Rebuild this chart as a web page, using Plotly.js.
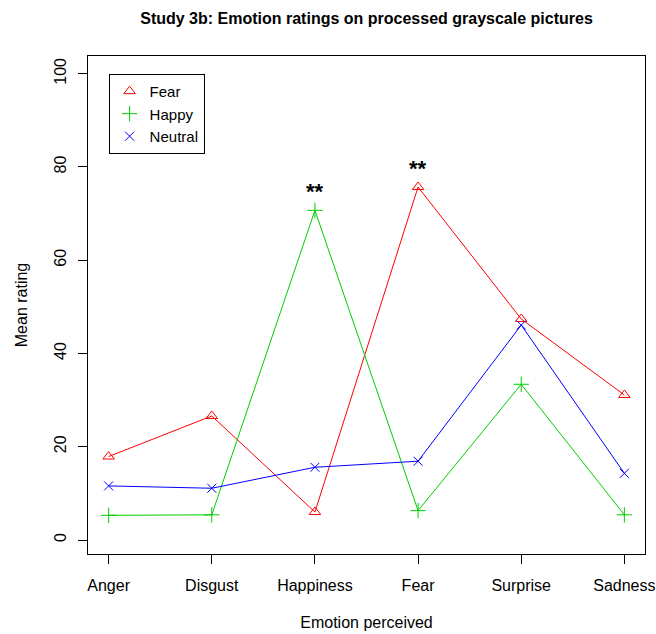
<!DOCTYPE html>
<html>
<head>
<meta charset="utf-8">
<script src="https://cdn.plot.ly/plotly-3.0.1.min.js"></script>
<style>
  html, body { margin: 0; padding: 0; background: #fff; }
  #chart { width: 656px; height: 634px; }
</style>
</head>
<body>
<div id="chart"></div>
<script>
// Emotion categories on the x axis
const emotions = ["Anger", "Disgust", "Happiness", "Fear", "Surprise", "Sadness"];

// Mean ratings per picture type
const fearRatings    = [17.9, 26.6, 6.0, 75.7, 47.4, 31.1];
const happyRatings   = [5.3, 5.4, 70.7, 6.3, 33.4, 5.4];
const neutralRatings = [11.6, 11.1, 15.6, 16.9, 46.1, 14.3];

// Significance markers: category, the rating they sit above, label
const sigCategories = ["Happiness", "Fear"];
const sigRatings    = [70.7, 75.7];
const sigLabels     = ["**", "**"];

const yTicks = [0, 20, 40, 60, 80, 100];

const FONT = "Liberation Sans, Arial, Helvetica, sans-serif";

// Each series: a line trace (kept out of the legend) plus a marker trace
// so the legend shows only the plotting symbol.
function series(name, values, color, symbol, size) {
  return [
    {
      type: "scatter",
      mode: "lines",
      name: name,
      x: emotions,
      y: values,
      line: { color: color, width: 1 },
      showlegend: false,
      hoverinfo: "skip"
    },
    {
      type: "scatter",
      mode: "markers",
      name: name,
      x: emotions,
      y: values,
      marker: { symbol: symbol, size: size, color: color, line: { color: color, width: 1 } }
    }
  ];
}

const traces = [].concat(
  series("Fear", fearRatings, "#FF0000", "triangle-up-open", 10),
  series("Happy", happyRatings, "#00CD00", "cross-thin-open", 11),
  series("Neutral", neutralRatings, "#0000FF", "x-thin-open", 9)
);

const sigAnnotations = sigCategories.map((c, i) => ({
  x: c,
  y: sigRatings[i] + 4,
  xref: "x",
  yref: "y",
  text: "<b>" + sigLabels[i] + "</b>",
  showarrow: false,
  yanchor: "middle",
  font: { family: FONT, size: 22, color: "#000" }
}));

const layout = {
  width: 656,
  height: 634,
  margin: { l: 88, r: 11, t: 56, b: 80 },
  paper_bgcolor: "#fff",
  plot_bgcolor: "#fff",
  font: { family: FONT, size: 16, color: "#000" },
  title: {
    text: "<b>Study 3b: Emotion ratings on processed grayscale pictures</b>",
    font: { family: FONT, size: 16, color: "#000" },
    x: 0.5587,
    xanchor: "center",
    y: 0.971,
    yanchor: "middle"
  },
  xaxis: {
    type: "category",
    range: [-0.2, 5.2],
    showgrid: false,
    zeroline: false,
    showline: true,
    mirror: true,
    linecolor: "#000",
    linewidth: 1,
    ticks: "outside",
    ticklen: 9,
    tickwidth: 1,
    tickcolor: "#000",
    ticklabelstandoff: 8,
    tickfont: { family: FONT, size: 16, color: "#000" },
    title: { text: "Emotion perceived", standoff: 23, font: { family: FONT, size: 16, color: "#000" } },
    fixedrange: true
  },
  yaxis: {
    range: [-3, 103.8],
    tickvals: yTicks,
    ticktext: yTicks.map(String),
    tickangle: -90,
    showgrid: false,
    zeroline: false,
    showline: true,
    mirror: true,
    linecolor: "#000",
    linewidth: 1,
    ticks: "outside",
    ticklen: 9,
    tickwidth: 1,
    tickcolor: "#000",
    ticklabelstandoff: 6,
    tickfont: { family: FONT, size: 16, color: "#000" },
    title: { text: "Mean rating", standoff: 19, font: { family: FONT, size: 16, color: "#000" } },
    fixedrange: true
  },
  legend: {
    x: 0.037,
    y: 0.964,
    xanchor: "left",
    yanchor: "top",
    bgcolor: "#fff",
    bordercolor: "#000",
    borderwidth: 1,
    font: { family: FONT, size: 15, color: "#000" },
    itemwidth: 30
  },
  showlegend: true,
  annotations: sigAnnotations
};

Plotly.newPlot("chart", traces, layout, { displayModeBar: false, staticPlot: true });
</script>
</body>
</html>
